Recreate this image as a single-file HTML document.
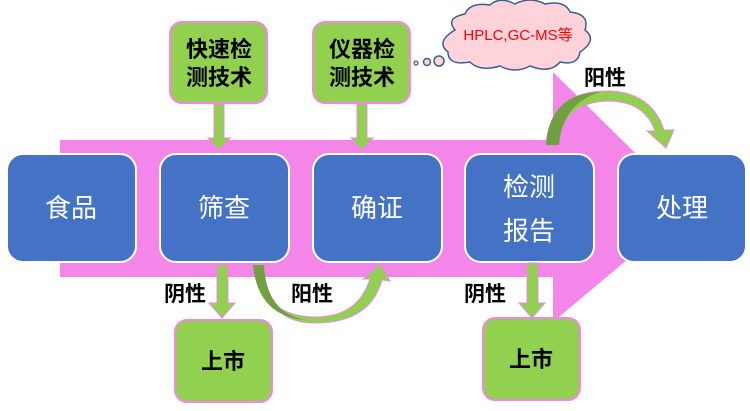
<!DOCTYPE html>
<html><head><meta charset="utf-8"><style>
html,body{margin:0;padding:0;background:#fff;width:750px;height:411px;overflow:hidden}
svg text{font-family:"Liberation Sans","Noto Sans CJK SC",sans-serif}
</style></head><body>
<svg width="750" height="411" viewBox="0 0 750 411" xmlns="http://www.w3.org/2000/svg">
<polygon points="60,140 553,140 553,72 690,207 553,322 553,277 60,277" fill="#f386e8"/>
<g fill="#4472c4" stroke="#fff" stroke-width="2">
<rect x="7" y="154" width="129" height="108" rx="16"/>
<rect x="160" y="154" width="129" height="108" rx="16"/>
<rect x="313" y="154" width="129" height="108" rx="16"/>
<rect x="465" y="154" width="129" height="108" rx="16"/>
<rect x="618" y="154" width="128" height="108" rx="16"/>
</g>
<g fill="#fff" font-size="26" text-anchor="middle">
<text x="71" y="217">食品</text>
<text x="224" y="217">筛查</text>
<text x="377" y="217">确证</text>
<text x="529" y="196">检测</text>
<text x="529" y="240">报告</text>
<text x="682" y="217">处理</text>
</g>
<g fill="#92d050" stroke="#f386e8" stroke-width="2">
<rect x="170" y="22" width="97" height="81" rx="12"/>
<rect x="313" y="22" width="97" height="81" rx="12"/>
<rect x="175" y="320" width="97" height="82" rx="12"/>
<rect x="483" y="318" width="97" height="82" rx="12"/>
</g>
<g fill="#000" font-size="22" font-weight="bold" text-anchor="middle">
<text x="219" y="57">快速检</text>
<text x="219" y="85">测技术</text>
<text x="362" y="57">仪器检</text>
<text x="362" y="85">测技术</text>
<text x="223" y="369">上市</text>
<text x="531" y="367">上市</text>
<text x="185" y="301" font-size="21">阴性</text>
<text x="312" y="301" font-size="21">阳性</text>
<text x="485" y="301" font-size="21">阴性</text>
<text x="605" y="85" font-size="21">阳性</text>
</g>
<g fill="#92d050" stroke="#f386e8" stroke-width="1">
<polygon points="214,104 224,104 224,138 230,138 219,150 208,138 214,138"/>
<polygon points="357,104 367,104 367,138 373,138 362,150 351,138 357,138"/>
<polygon points="217,265 228,265 228,303 235,303 222,318 209,303 217,303"/>
<polygon points="527,263 538,263 538,303 545,303 532,318 519,303 527,303"/>
</g>
<path d="M253,265 Q262,316 315,317 Q358,317 370,279 L363,279 L380,264 L390,281 L382,280 Q370,323 315,323 Q264,323 264,265 Z" fill="#92d050" stroke="#f386e8" stroke-width="1"/>
<path d="M253,265 Q258,316 305,320 Q266,312 264,265 Z" fill="#70a040"/>
<path d="M546,145 Q550,90 610,91 Q652,93 664,130 L674,130 L666,148 L647,131 L655,131 Q645,102 610,101 Q563,101 559,145 Z" fill="#92d050" stroke="#f386e8" stroke-width="1"/>
<path d="M546,145 Q550,93 600,92 Q562,104 559,145 Z" fill="#70a040"/>
<path d="M455,30 Q445,18 465,14 Q470,2 490,5 Q500,-4 515,4 Q530,-4 545,4 Q565,0 570,12 Q590,14 585,30 Q598,40 580,52 Q578,66 560,62 Q550,74 530,66 Q515,74 500,66 Q480,72 470,62 Q448,66 448,52 Q435,42 455,30 Z" fill="#ffd3d9" stroke="#3a5f8f" stroke-width="1.5"/>
<circle cx="439" cy="61" r="5" fill="#ffd3d9" stroke="#3a5f8f" stroke-width="1.5"/>
<circle cx="427" cy="62" r="3.5" fill="#ffd3d9" stroke="#3a5f8f" stroke-width="1.5"/>
<circle cx="416" cy="63" r="2" fill="#ffd3d9" stroke="#3a5f8f" stroke-width="1.2"/>
<text x="518" y="40" fill="#ff0000" font-size="15" text-anchor="middle">HPLC,GC-MS等</text>
</svg>
</body></html>
